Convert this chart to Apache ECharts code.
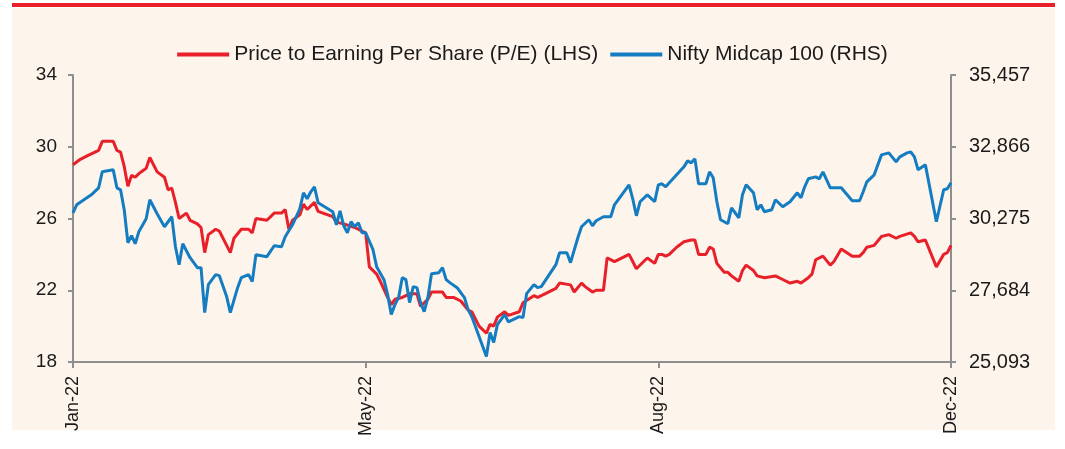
<!DOCTYPE html>
<html>
<head>
<meta charset="utf-8">
<script src="https://cdn.jsdelivr.net/npm/echarts@6/dist/echarts.min.js"></script>
<style>
  html, body { margin: 0; padding: 0; background: #fff; }
  #chart-ctn { width: 1065px; height: 449px; }
</style>
</head>
<body>
<div id="chart-ctn"></div>
<script>
// trading-day index (0 = start of Jan-22, 240 = Dec-22)
var tickDays = [0, 80, 160, 240];
var tickLabels = ['Jan-22', 'May-22', 'Aug-22', 'Dec-22'];

var peDays = [0,2,4,7,8,11,12,13,14,15,16,17,18,20,21,23,25,26,27,28,29,31,32,34,35,36,37,39,40,42,43,44,46,48,49,50,53,55,57,58,59,60,62,63,64,66,67,71,72,74,77,79,80,81,83,84,86,87,88,90,92,94,95,97,98,100,101,102,104,106,108,109,111,113,114,115,116,118,119,122,123,126,127,129,132,133,136,137,139,140,142,143,145,146,148,152,153,154,156,157,159,160,161,162,163,165,167,169,170,171,173,174,175,176,178,179,180,182,183,184,186,187,189,192,194,196,198,199,201,202,203,205,207,208,210,213,215,216,217,219,221,223,225,226,229,230,231,233,236,238,239,240];
var peVals = [29.0,29.3,29.5,29.8,30.3,30.3,29.8,29.7,28.9,27.8,28.4,28.3,28.5,28.8,29.4,28.6,28.3,27.6,27.7,26.9,26.0,26.3,25.9,25.7,25.5,24.1,25.1,25.4,25.3,24.5,24.1,24.9,25.4,25.4,25.2,26.0,25.9,26.3,26.3,26.5,25.4,25.9,26.2,26.8,26.5,26.9,26.4,26.1,25.8,25.7,25.5,25.3,25.2,23.3,22.9,22.5,21.6,21.2,21.5,21.6,21.8,21.8,21.1,21.5,21.9,21.9,21.9,21.6,21.6,21.4,20.9,20.8,20.0,19.6,20.1,20.0,20.5,20.8,20.6,20.8,21.3,21.7,21.6,21.8,22.1,22.4,22.3,21.9,22.4,22.2,21.9,22.0,22.0,23.8,23.6,24.0,23.6,23.2,23.6,23.8,23.5,24.0,24.0,23.9,24.0,24.4,24.7,24.8,24.8,24.0,24.0,24.4,24.3,23.5,23.0,23.0,22.8,22.5,23.1,23.4,23.1,22.8,22.7,22.8,22.6,22.4,22.5,22.4,22.7,22.9,23.7,23.9,23.4,23.6,24.3,23.9,23.9,24.1,24.4,24.5,25.0,25.1,24.9,25.0,25.2,25.0,24.7,24.8,23.3,24.0,24.1,24.5];

var midDays = [0,1,3,5,7,8,11,12,13,14,15,16,17,18,20,21,23,25,27,28,29,30,32,34,35,36,37,39,40,42,43,45,46,48,49,50,53,55,57,58,60,62,63,64,65,66,67,71,72,73,74,75,76,77,78,79,80,82,83,85,86,87,88,89,90,91,92,93,94,95,96,97,98,100,101,102,103,105,107,108,109,111,113,114,115,116,118,119,122,123,124,126,127,128,130,132,133,135,136,138,139,141,142,143,145,147,148,150,152,153,154,155,157,159,160,161,162,163,165,167,168,169,170,171,173,174,175,176,177,179,180,182,183,184,186,187,188,189,191,192,194,196,198,199,200,201,203,204,205,207,210,213,215,216,217,219,221,223,225,226,228,229,230,231,233,236,238,239,240];
var midVals = [30482,30770,30951,31131,31383,31960,32032,31383,31311,30590,29401,29653,29365,29797,30266,30951,30446,29977,30338,29256,28607,29365,28860,28499,28499,26877,27886,28247,28211,27454,26877,27778,28139,28247,27995,28968,28896,29292,29256,29617,30049,30626,31203,30987,31239,31419,30843,30518,30049,30554,30013,29761,30158,29977,30122,29761,29761,29148,28535,28067,27526,26805,27165,27418,28139,28067,27238,27814,27778,27238,26913,27418,28283,28319,28499,28067,27959,27778,27418,26985,26733,26012,25291,26156,25796,26444,26805,26540,26733,26697,27562,27886,27778,27814,28211,28607,29040,29040,28680,29581,29977,30230,30013,30194,30338,30338,30770,31131,31491,30987,30374,30879,31131,30879,31491,31528,31419,31564,31852,32140,32357,32285,32429,31528,31528,31960,31744,30879,30230,30086,30662,30302,31131,31491,31203,30590,30770,30518,30590,30951,30698,30879,31203,31023,31419,31708,31780,31708,31960,31383,31383,30915,30915,31239,31600,31852,32573,32645,32321,32501,32645,32681,32501,32032,32212,30158,31311,31347,31564];

function zip(days, vals) {
  var out = [];
  for (var i = 0; i < days.length; i++) {
    out.push([days[i], vals[i]]);
  }
  return out
}

var myChart = echarts.init(document.getElementById('chart-ctn'));

var fontFam = 'Liberation Sans, Arial, sans-serif';
var axisGray = '#8e8e8e';

var option = {
  backgroundColor: '#ffffff',
  animation: false,
  graphic: [
    { type: 'rect', shape: { x: 12, y: 8, width: 1043, height: 422 }, style: { fill: '#fdf4ec' }, z: -10 },
    { type: 'rect', shape: { x: 12, y: 3, width: 1043, height: 4 }, style: { fill: '#e8202a' }, z: -9 }
  ],
  legend: {
    top: 39,
    left: 'center',
    icon: 'rect',
    itemWidth: 52,
    itemHeight: 4,
    itemGap: 12,
    textStyle: { fontFamily: fontFam, fontSize: 21, color: '#1a1a1a' },
    data: ['Price to Earning Per Share (P/E) (LHS)', 'Nifty Midcap 100 (RHS)']
  },
  grid: { left: 73, right: 114, top: 75, bottom: 87 },
  xAxis: {
    type: 'value',
    min: 0,
    max: 240,
    interval: 80,
    splitLine: { show: false },
    axisLine: { lineStyle: { color: axisGray, width: 2 } },
    axisTick: { show: true, length: 6, lineStyle: { color: axisGray, width: 2 } },
    axisLabel: {
      rotate: 90,
      margin: 14,
      fontFamily: fontFam,
      fontSize: 18,
      color: '#1a1a1a',
      formatter: function (v) {
        var k = tickDays.indexOf(v);
        return k >= 0 ? tickLabels[k] : '';
      }
    }
  },
  yAxis: [
    {
      type: 'value',
      min: 18,
      max: 34,
      interval: 4,
      splitLine: { show: false },
      axisLine: { show: true, lineStyle: { color: axisGray, width: 2 } },
      axisTick: { show: true, length: 5, lineStyle: { color: axisGray, width: 2 } },
      axisLabel: { fontFamily: fontFam, fontSize: 19, color: '#1a1a1a', margin: 16 }
    },
    {
      type: 'value',
      min: 25093,
      max: 35457,
      interval: 2591,
      position: 'right',
      splitLine: { show: false },
      axisLine: { show: true, lineStyle: { color: axisGray, width: 2 } },
      axisTick: { show: true, length: 5, lineStyle: { color: axisGray, width: 2 } },
      axisLabel: {
        fontFamily: fontFam, fontSize: 20, color: '#1a1a1a', margin: 18,
        formatter: function (v) { return Math.round(v).toLocaleString('en-US'); }
      }
    }
  ],
  series: [
    {
      name: 'Price to Earning Per Share (P/E) (LHS)',
      type: 'line',
      yAxisIndex: 0,
      showSymbol: false,
      symbol: 'none',
      lineStyle: { color: '#e8202a', width: 3 },
      itemStyle: { color: '#e8202a' },
      data: zip(peDays, peVals)
    },
    {
      name: 'Nifty Midcap 100 (RHS)',
      type: 'line',
      yAxisIndex: 1,
      showSymbol: false,
      symbol: 'none',
      lineStyle: { color: '#147cc1', width: 3 },
      itemStyle: { color: '#147cc1' },
      data: zip(midDays, midVals)
    }
  ]
};

myChart.setOption(option);
</script>
</body>
</html>
